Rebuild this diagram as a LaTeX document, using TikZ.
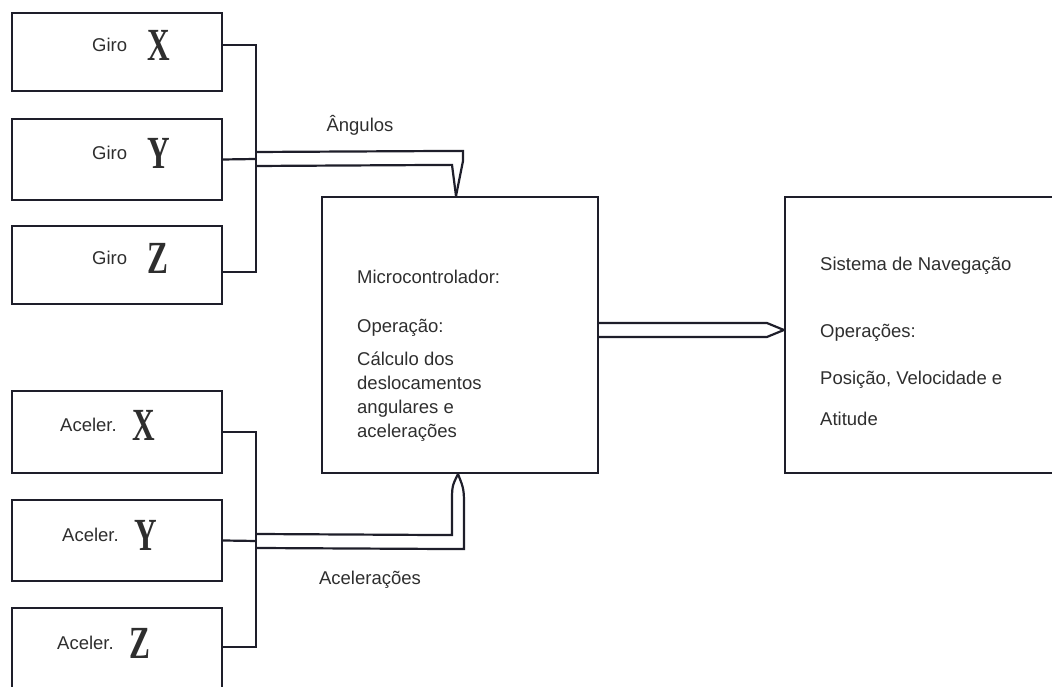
\documentclass[tikz,border=0pt]{standalone}
\usepackage{fontspec}
\setmainfont{Liberation Sans}
\newfontfamily\letraeixo{Liberation Serif}
\usetikzlibrary{calc}
\definecolor{cTraco}{HTML}{1E1E2A}
\definecolor{cTexto}{HTML}{2E2E2E}
\newcommand{\eixo}[1]{\raisebox{-9pt}{\scalebox{0.68}[1]{\letraeixo\bfseries\fontsize{46}{46}\selectfont #1}}}
\tikzset{
    x=1pt, y=1pt, font=\fontsize{18.5}{24}\selectfont,
    caixa/.style={draw=cTraco, line width=2.2pt, inner sep=0pt},
    fio/.style={draw=cTraco, line width=2.2pt},
    rotulo/.style={text=cTexto, inner sep=0pt},
}

\begin{document}
\begin{tikzpicture}
    \clip (0,0) rectangle (1052,687);

    % giroscopios
    \node[caixa, minimum width=210pt, minimum height=78pt] (gx) at (117,635) {};
    \node[caixa, minimum width=210pt, minimum height=81pt] (gy) at (117,527.5) {};
    \node[caixa, minimum width=210pt, minimum height=78pt] (gz) at (117,422) {};
    \node[rotulo, anchor=west] (gxl) at (92,642) {Giro\hspace{20pt}\eixo{X}};
    \node[rotulo, anchor=west] (gyl) at (92,534) {Giro\hspace{20pt}\eixo{Y}};
    \node[rotulo, anchor=west] (gzl) at (92,429) {Giro\hspace{20pt}\eixo{Z}};

    % acelerometros
    \node[caixa, minimum width=210pt, minimum height=82pt] (ax) at (117,255) {};
    \node[caixa, minimum width=210pt, minimum height=81pt] (ay) at (117,146.5) {};
    \node[caixa, minimum width=210pt, minimum height=82pt] (az) at (117,38) {};
    \node[rotulo, anchor=west] (axl) at (60,262) {Aceler.\hspace{16pt}\eixo{X}};
    \node[rotulo, anchor=west] (ayl) at (62,152) {Aceler.\hspace{16pt}\eixo{Y}};
    \node[rotulo, anchor=west] (azl) at (57,44) {Aceler.\hspace{16pt}\eixo{Z}};

    % processamento
    \node[caixa, minimum width=276pt, minimum height=276pt] (micro) at (460,352) {};
    \node[rotulo, anchor=north west, align=left] (microtxt) at (357,417)
        {Microcontrolador:\\[25pt]Operação:\\[9pt]Cálculo dos\\deslocamentos\\angulares e\\acelerações};
    \node[caixa, minimum width=275pt, minimum height=276pt] (nav) at (922.5,352) {};
    \node[rotulo, anchor=north west, align=left] (navtxt) at (820,430)
        {Sistema de Navegação\\[43pt]Operações:\\[23pt]Posição, Velocidade e\\[17pt]Atitude};

    % barramentos
    \coordinate (gbus) at (256,528);
    \coordinate (abus) at (256,146);
    \draw[fio] ([yshift=7pt]gx.east) -| (gbus) |- ([yshift=-7pt]gz.east);
    \draw[fio] (gy.east) -- (gbus);
    \draw[fio] (ax.east) -| (abus) |- ([yshift=2pt]az.east);
    \draw[fio] (ay.east) -- (abus);

    % setas duplas
    \draw[fio] ($(gbus)+(0,7)$) -- ($(micro.north)+(3,45)$) -- ($(micro.north)+(3,35)$)
        -- ([xshift=-4pt]micro.north);
    \draw[fio] ($(gbus)+(0,-7)$) -- ($(micro.north)+(-8,31)$) -- ([xshift=-4pt]micro.north);
    \node[rotulo] (angl) at (360,562) {Ângulos};

    \draw[fio] ($(abus)+(0,7)$) -- ($(micro.south)+(-8,-61)$) -- ($(micro.south)+(-8,-30)$)
        .. controls ($(micro.south)+(-8,-12)$) .. ([xshift=-2pt]micro.south);
    \draw[fio] ($(abus)+(0,-7)$) -- ($(micro.south)+(4,-75)$) -- ($(micro.south)+(4,-35)$)
        .. controls ($(micro.south)+(4,-15)$) .. ([xshift=-2pt]micro.south);
    \node[rotulo] (acell) at (370,107) {Acelerações};

    \draw[fio] ($(micro.east)+(0,12)$) -- ($(nav.west)+(-17,12)$) -- ([yshift=5pt]nav.west);
    \draw[fio] ($(micro.east)+(0,-2)$) -- ($(nav.west)+(-17,-2)$) -- ([yshift=5pt]nav.west);
\end{tikzpicture}
\end{document}
